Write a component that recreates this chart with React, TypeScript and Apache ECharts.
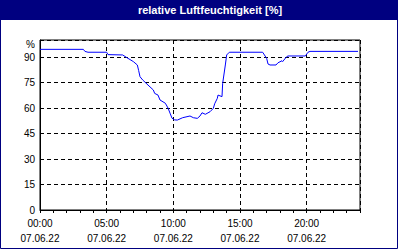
import React, { useEffect, useRef } from "react";
import * as echarts from "echarts";

const TITLE = "relative Luftfeuchtigkeit [%]";
const DATE_LABEL = "07.06.22";
// hours since 00:00
const hours = [
  0, 3.25, 3.37, 3.6, 5.0, 5.1, 6.2, 6.6, 7.0, 7.3, 7.4, 7.5, 7.7, 8.1, 8.5, 8.6, 8.85, 9.0,
  9.4, 9.6, 9.75, 9.9, 10.1, 10.3, 10.7, 11.25, 11.5, 11.8, 12.0, 12.15, 12.4, 12.75, 13.0,
  13.1, 13.3, 13.35, 13.65, 13.7, 13.9, 14.0, 14.2, 16.7, 17.0, 17.1, 17.25, 17.7, 17.85,
  18.15, 18.2, 18.5, 18.6, 19.9, 20.1, 20.25, 23.85,
];
// relative humidity in %
const humidity = [
  94.5, 94.5, 93.3, 92.8, 92.8, 91.4, 91.2, 89.2, 87.3, 85.3, 82, 78.4, 76.5, 73.5, 70.6,
  68.6, 67.6, 64.7, 62.8, 60, 57, 54, 53, 52.9, 54.3, 55.3, 54.3, 53.9, 55.3, 57.2, 56.3,
  57.8, 59.8, 62.5, 65.7, 67.6, 66.7, 74.5, 85.3, 91.2, 92.8, 92.8, 89.2, 85.9, 85.3, 85.3,
  86.6, 87.8, 87.3, 90.2, 90.6, 90.6, 92.8, 93.3, 93.3,
];
const yTicks = [0, 15, 30, 45, 60, 75, 90];

const FONT = "Liberation Sans";

export default function App() {
  const ref = useRef<HTMLDivElement>(null);
  useEffect(() => {
    if (!ref.current) return;
    const chart = echarts.init(ref.current, undefined, { renderer: "svg" });
    const pad = (n: number) => (n < 10 ? "0" + n : String(n));
    const dashed = { color: "#000", width: 1, type: [4, 3] as any };
    chart.setOption({
      animation: false,
      backgroundColor: "#fff",
      grid: {
        left: 40,
        right: 40,
        top: 40,
        bottom: 40,
        show: true,
        borderColor: "#000",
        borderWidth: 1,
        backgroundColor: "#fff",
      },
      xAxis: [
        {
          type: "value",
          min: 0,
          max: 24,
          interval: 5,
          position: "bottom",
          axisLine: { show: true, lineStyle: { color: "#000", width: 1 } },
          axisTick: { show: true, length: 3, lineStyle: { color: "#000" } },
          axisLabel: {
            margin: 6,
            fontFamily: FONT,
            fontSize: 10,
            color: "#000",
            lineHeight: 15,
            showMaxLabel: false,
            formatter: (v: number) =>
              v % 5 === 0 && v < 24 ? `${pad(v)}:00\n${DATE_LABEL}` : "",
          },
          splitLine: { show: true, lineStyle: dashed },
        },
        {
          type: "value",
          min: 0,
          max: 24,
          interval: 1,
          position: "bottom",
          axisLine: { show: false },
          axisTick: { show: true, length: 3, lineStyle: { color: "#000" } },
          axisLabel: { show: false },
          splitLine: { show: false },
        },
      ],
      yAxis: {
        type: "value",
        min: 0,
        max: 100,
        interval: 15,
        axisLine: { show: true, lineStyle: { color: "#000", width: 1 } },
        axisTick: { show: false },
        axisLabel: {
          margin: 5,
          fontFamily: FONT,
          fontSize: 10,
          color: "#000",
          formatter: (v: number) => (yTicks.includes(v) ? String(v) : ""),
        },
        splitLine: { show: true, lineStyle: dashed },
      },
      series: [
        {
          type: "line",
          xAxisIndex: 0,
          data: hours.map((h, i) => [h, humidity[i]]),
          showSymbol: false,
          lineStyle: { color: "#0000ff", width: 1 },
          z: 5,
        },
      ],
      graphic: [
        {
          type: "rect",
          shape: { x: 0, y: 0, width: 398, height: 20 },
          style: { fill: "#000080" },
        },
        {
          type: "rect",
          shape: { x: 0.5, y: 0.5, width: 397, height: 248 },
          style: { fill: "none", stroke: "#000080", lineWidth: 1 },
        },
        {
          type: "text",
          x: 210,
          y: 10,
          style: {
            text: TITLE,
            fill: "#fff",
            font: `bold 11px "${FONT}"`,
            textAlign: "center",
            textVerticalAlign: "middle",
          },
        },
        {
          type: "text",
          x: 35,
          y: 44,
          style: {
            text: "%",
            fill: "#000",
            font: `10px "${FONT}"`,
            textAlign: "right",
            textVerticalAlign: "middle",
          },
        },
      ],
    });
    return () => chart.dispose();
  }, []);
  return (
    <div
      ref={ref}
      style={{ position: "absolute", left: 0, top: 0, width: 400, height: 250 }}
    />
  );
}
